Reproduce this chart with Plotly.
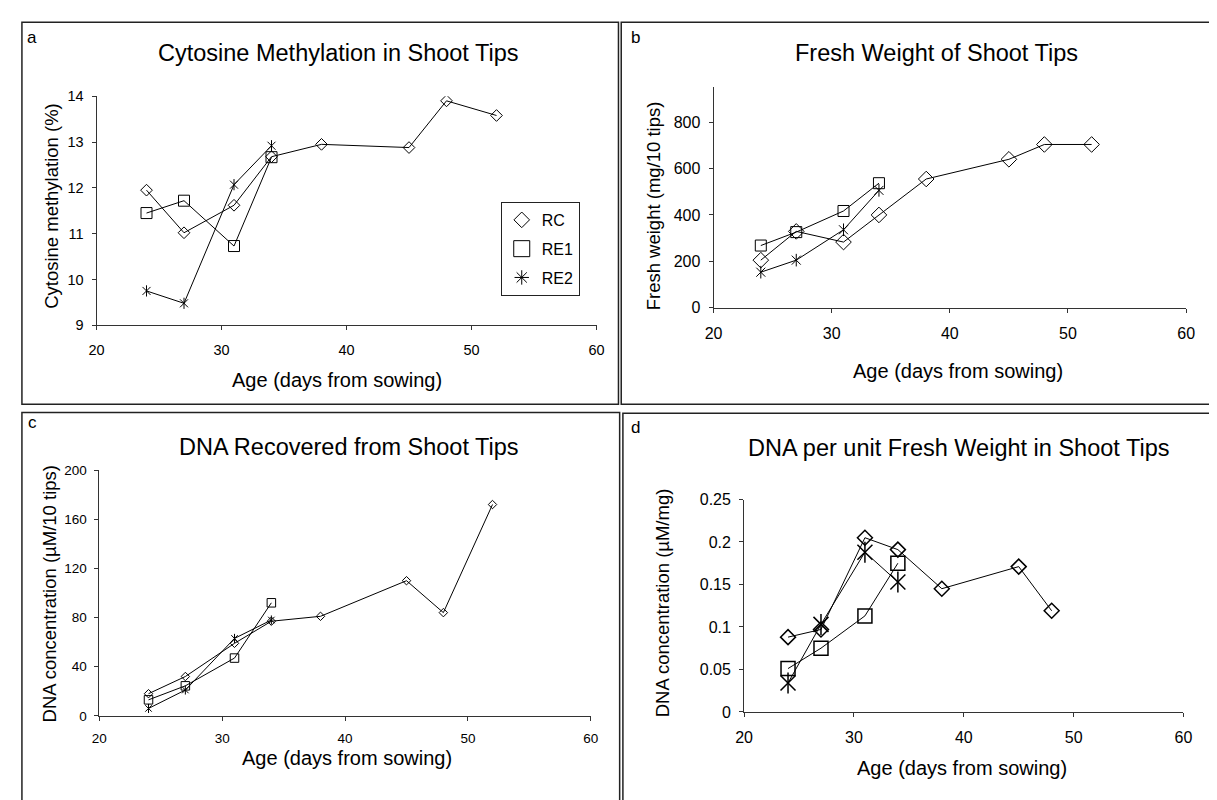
import plotly.graph_objects as go

# ---------------- data ----------------
days_rc = [24, 27, 31, 34, 38, 45, 48, 52]
days_rc_d = [24, 27, 31, 34, 38, 45, 48]
days_re = [24, 27, 31, 34]

meth_rc = [11.95, 11.02, 11.62, 12.68, 12.95, 12.88, 13.90, 13.58]
meth_re1 = [11.45, 11.72, 10.73, 12.67]
meth_re2 = [9.75, 9.48, 12.07, 12.92]

fw_rc = [205, 329, 283, 400, 555, 640, 704, 704]
fw_re1 = [268, 326, 417, 537]
fw_re2 = [153, 205, 336, 506]

dna_rc = [18, 32, 59, 77, 81, 110, 84, 172]
dna_re1 = [13, 24.4, 47, 92]
dna_re2 = [6, 21, 63, 78]

dpf_rc = [0.088, 0.097, 0.205, 0.191, 0.145, 0.171, 0.119]
dpf_re1 = [0.051, 0.075, 0.113, 0.175]
dpf_re2 = [0.034, 0.103, 0.188, 0.153]

series_names = ["RC", "RE1", "RE2"]
x_ticks = [20, 30, 40, 50, 60]
ticks_a = [9, 10, 11, 12, 13, 14]
ticks_b = [0, 200, 400, 600, 800]
ticks_c = [0, 40, 80, 120, 160, 200]
ticks_d = [0, 0.05, 0.1, 0.15, 0.2, 0.25]
ticks_d_text = ["0", "0.05", "0.1", "0.15", "0.2", "0.25"]

titles = ["Cytosine Methylation in Shoot Tips", "Fresh Weight of Shoot Tips",
          "DNA Recovered from Shoot Tips", "DNA per unit Fresh Weight in Shoot Tips"]
ytitles = ["Cytosine methylation (%)", "Fresh weight (mg/10 tips)",
           "DNA concentration (\u00b5M/10 tips)", "DNA concentration (\u00b5M/mg)"]
xtitle = "Age (days from sowing)"
letters = ["a", "b", "c", "d"]

# ---------------- geometry helpers ----------------
W, H = 1217, 800
FONT = "Liberation Sans, Arial, sans-serif"
AXC = "#333333"


def px(x):
    return x / W


def py(y):
    return 1 - y / H


fig = go.Figure()


def axis(domain, rng, tickvals, anchor, fsize, ticktext=None, standoff=6):
    d = dict(domain=domain, range=rng, anchor=anchor, showline=True, linecolor=AXC,
             linewidth=1, ticks="outside", ticklen=4, tickwidth=1, tickcolor=AXC,
             showgrid=False, zeroline=False, tickvals=tickvals,
             tickfont=dict(size=fsize, color="black", family=FONT),
             ticklabelstandoff=standoff, fixedrange=True)
    if ticktext is not None:
        d["ticktext"] = ticktext
    return d


def add_panel(xa, ya, xrc, yrc, yre1, yre2, s_dia, s_sq, s_ast, lw=1.0):
    line = dict(color="black", width=1)
    fig.add_trace(go.Scatter(x=xrc, y=yrc, mode="lines+markers", xaxis=xa, yaxis=ya,
                             line=line, showlegend=False,
                             marker=dict(symbol="diamond-open", size=s_dia, color="black",
                                         line=dict(width=lw, color="black"))))
    fig.add_trace(go.Scatter(x=days_re, y=yre1, mode="lines+markers", xaxis=xa, yaxis=ya,
                             line=line, showlegend=False,
                             marker=dict(symbol="square-open", size=s_sq, color="black",
                                         line=dict(width=lw, color="black"))))
    fig.add_trace(go.Scatter(x=days_re, y=yre2, mode="lines+markers", xaxis=xa, yaxis=ya,
                             line=line, showlegend=False,
                             marker=dict(symbol="x-thin-open", size=s_ast, color="black",
                                         line=dict(width=lw, color="black"))))
    fig.add_trace(go.Scatter(x=days_re, y=yre2, mode="markers", xaxis=xa, yaxis=ya,
                             showlegend=False,
                             marker=dict(symbol="line-ns-open", size=s_ast, color="black",
                                         line=dict(width=lw, color="black"))))


add_panel("x", "y", days_rc, meth_rc, meth_re1, meth_re2, 9, 11, 8)
add_panel("x2", "y2", days_rc, fw_rc, fw_re1, fw_re2, 12, 11, 9)
add_panel("x3", "y3", days_rc, dna_rc, dna_re1, dna_re2, 6.5, 8.5, 6.5)
add_panel("x4", "y4", days_rc_d, dpf_rc, dpf_re1, dpf_re2, 11.5, 14, 15, lw=1.5)

# legend entries (panel a)
leg_symbols = ["diamond-open", "square-open", "asterisk-open"]
leg_sizes = [12, 16, 12]
for name, sym, sz in zip(series_names, leg_symbols, leg_sizes):
    fig.add_trace(go.Scatter(x=[None], y=[None], mode="markers", name=name, xaxis="x", yaxis="y",
                             legendgroup=name, showlegend=True,
                             marker=dict(symbol=sym, size=sz, color="black",
                                         line=dict(width=1, color="black"))))

layout = dict(
    width=W, height=H, autosize=False,
    margin=dict(l=0, r=0, t=0, b=0),
    paper_bgcolor="white", plot_bgcolor="white",
    font=dict(family=FONT, color="black"),
    xaxis=axis([px(80.7), px(588.2)], [20, 60], x_ticks, "y", 14.5, standoff=7),
    yaxis=axis([py(316), py(82)], [9, 14], ticks_a, "x", 14.5, standoff=5),
    xaxis2=axis([px(707), px(1186.7)], [20, 60], x_ticks, "y2", 16, standoff=7),
    yaxis2=axis([py(298), py(73)], [0, 950], ticks_b, "x2", 16, standoff=5),
    xaxis3=axis([px(83.6), px(582.4)], [20, 60], x_ticks, "y3", 13.5, standoff=6),
    yaxis3=axis([py(715), py(464)], [0, 200], ticks_c, "x3", 13.5, standoff=5),
    xaxis4=axis([px(738), px(1184)], [20, 60], x_ticks, "y4", 16, standoff=7),
    yaxis4=axis([py(711), py(494)], [0, 0.25], ticks_d, "x4", 16, ticks_d_text, standoff=5),
    legend=dict(x=px(491), y=py(190), xanchor="left", yanchor="top",
                bordercolor="#222222", borderwidth=1, bgcolor="white",
                font=dict(size=16, family=FONT, color="black"),
                traceorder="grouped", tracegroupgap=5, itemwidth=30),
)
fig.update_layout(**layout)

# panel borders
borders = [(5, 6.5, 610.5, 396.7), (613.3, 6.3, 1230, 396.7),
           (5, 405, 611.7, 815), (615, 406, 1215.3, 815)]
for x0, y0, x1, y1 in borders:
    fig.add_shape(type="rect", xref="paper", yref="paper",
                  x0=px(x0), x1=px(x1), y0=py(y1), y1=py(y0),
                  line=dict(color="#222222", width=1.5), fillcolor="rgba(0,0,0,0)")

# text
title_pos = [(326, 38), (933, 38), (336.5, 440), (956, 441)]
xtitle_pos = [(325, 372), (955, 363), (334.6, 758), (959, 768)]
ytitle_pos = [(35, 193.5), (646, 194), (33, 590.5), (656, 599.7)]
letter_pos = [(15, 22), (628, 22), (16, 415), (628, 420)]


def ann(text, x, y, size, angle=0, xanchor="center"):
    fig.add_annotation(text=text, xref="paper", yref="paper", x=px(x), y=py(y),
                       xanchor=xanchor, yanchor="middle", showarrow=False, textangle=angle,
                       font=dict(size=size, family=FONT, color="black"))


for i in range(4):
    ann(titles[i], *title_pos[i], 23.5)
    ann(xtitle, *xtitle_pos[i], 20)
    ann(ytitles[i], *ytitle_pos[i], 18.5, angle=-90)
    ann(letters[i], *letter_pos[i], 17)

fig.write_html("out.html")
